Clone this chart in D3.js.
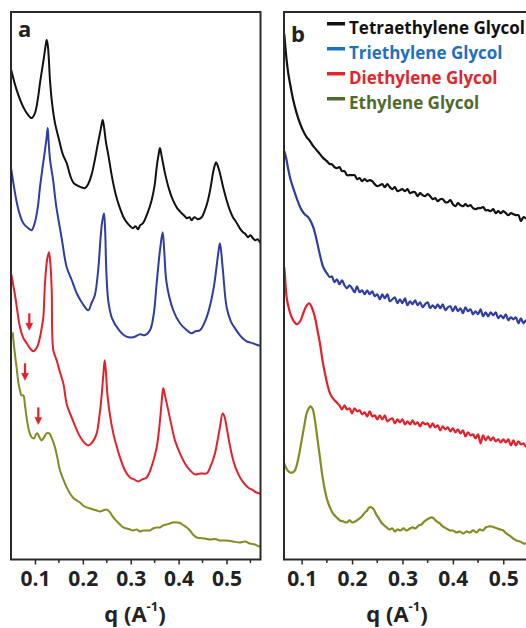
<!DOCTYPE html>
<html>
<head>
<meta charset="utf-8">
<script src="https://cdn.jsdelivr.net/npm/d3@7"></script>
<style>
  html, body { margin: 0; padding: 0; background: #fff; }
  text { font-family: "Open Sans", "DejaVu Sans", sans-serif; font-weight: 700; }
</style>
</head>
<body>
<svg id="chart" width="526" height="628"></svg>
<script>
// ---- data: [q (1/A), intensity (a.u., curves offset)] ----
const tickValues = [0.1, 0.2, 0.3, 0.4, 0.5];
const minorTickValues = [0.15, 0.25, 0.35, 0.45, 0.55];
const seriesNames = ['Tetraethylene Glycol', 'Triethylene Glycol', 'Diethylene Glycol', 'Ethylene Glycol'];
const lineColors = ['#111111', '#2e3ca4', '#e4202a', '#838b22'];
const labelColors = ['#111111', '#1f70c2', '#e1262b', '#4f6a2b'];

// panel a
const tetraA = [[0.0505,489],[0.0619,469],[0.0757,452],[0.0860,444],[0.0932,441],[0.1000,446],[0.1060,460],[0.1105,476],[0.1150,490],[0.1189,502],[0.1225,514],[0.1245,519],[0.1268,514],[0.1290,500],[0.1314,479],[0.1360,455],[0.1419,436],[0.1500,420],[0.1580,405],[0.1663,396],[0.1740,383],[0.1810,376],[0.1872,374],[0.1960,372],[0.2045,371],[0.2110,375],[0.2180,384],[0.2250,399],[0.2300,412],[0.2358,426],[0.2390,434],[0.2414,439],[0.2440,433],[0.2483,417],[0.2540,402],[0.2610,382],[0.2680,366],[0.2760,353],[0.2850,342],[0.2930,336],[0.2990,333],[0.3047,331],[0.3100,333],[0.3150,330],[0.3200,334],[0.3256,336],[0.3350,346],[0.3437,359],[0.3500,374],[0.3542,392],[0.3580,404],[0.3611,411],[0.3650,402],[0.3715,386],[0.3800,370],[0.3882,359],[0.3970,351],[0.4064,346],[0.4130,343],[0.4170,341],[0.4230,342],[0.4272,339],[0.4330,342],[0.4400,340],[0.4481,342],[0.4550,349],[0.4613,359],[0.4670,372],[0.4717,386],[0.4750,393],[0.4780,397],[0.4820,393],[0.4863,386],[0.4930,372],[0.5003,359],[0.5070,349],[0.5134,342],[0.5190,338],[0.5240,334],[0.5290,330],[0.5344,327],[0.5400,325],[0.5450,322],[0.5500,324],[0.5552,321],[0.5600,319],[0.5650,320],[0.5698,317],[0.5720,316]];
const triA = [[0.0505,390],[0.0560,373],[0.0619,357],[0.0688,344],[0.0757,336],[0.0860,331],[0.0932,329],[0.1000,337],[0.1060,352],[0.1105,372],[0.1160,392],[0.1210,409],[0.1245,422],[0.1266,431],[0.1285,418],[0.1314,400],[0.1350,388],[0.1383,378],[0.1420,362],[0.1454,350],[0.1558,321],[0.1663,292],[0.1770,279],[0.1872,266],[0.1990,256],[0.2114,249],[0.2180,256],[0.2250,264],[0.2320,289],[0.2370,321],[0.2400,336],[0.2441,346],[0.2465,330],[0.2490,289],[0.2530,259],[0.2610,241],[0.2760,229],[0.2900,223],[0.3053,222],[0.3200,225],[0.3290,224],[0.3402,229],[0.3480,245],[0.3542,276],[0.3611,309],[0.3667,327],[0.3700,308],[0.3750,276],[0.3888,249],[0.4028,236],[0.4150,230],[0.4272,226],[0.4350,228],[0.4445,229],[0.4585,242],[0.4724,269],[0.4828,306],[0.4863,316],[0.4919,292],[0.5003,252],[0.5090,238],[0.5177,231],[0.5316,222],[0.5420,218],[0.5550,216],[0.5663,214],[0.5720,213]];
const diA = [[0.0505,285],[0.0584,264],[0.0688,232],[0.0751,222],[0.0828,216],[0.0897,211],[0.0966,208],[0.1043,212],[0.1105,222],[0.1147,233],[0.1175,242],[0.1210,276],[0.1252,299],[0.1293,307],[0.1325,294],[0.1350,269],[0.1384,209],[0.1453,199],[0.1523,187],[0.1592,176],[0.1669,154],[0.1767,142],[0.1850,132],[0.1905,126],[0.2009,118],[0.2114,114],[0.2212,118],[0.2289,126],[0.2348,144],[0.2393,164],[0.2427,184],[0.2456,199],[0.2483,187],[0.2511,166],[0.2567,144],[0.2636,126],[0.2713,112],[0.2775,102],[0.2880,89],[0.2984,82],[0.3070,80],[0.3158,78],[0.3240,80],[0.3333,82],[0.3444,94],[0.3542,112],[0.3590,129],[0.3625,146],[0.3659,164],[0.3680,171],[0.3715,164],[0.3784,149],[0.3851,134],[0.3924,119],[0.4028,106],[0.4132,96],[0.4240,89],[0.4341,85],[0.4460,86],[0.4585,86],[0.4675,94],[0.4759,106],[0.4821,121],[0.4863,132],[0.4919,146],[0.4957,143],[0.5003,132],[0.5071,114],[0.5141,99],[0.5239,86],[0.5350,77],[0.5450,72],[0.5558,69],[0.5620,67],[0.5683,66],[0.5720,65]];
const ethA = [[0.0535,227],[0.0573,209],[0.0619,191],[0.0657,176],[0.0688,169],[0.0719,164],[0.0757,164],[0.0792,154],[0.0834,139],[0.0886,127],[0.0932,122],[0.0980,121],[0.1022,125],[0.1053,126],[0.1095,122],[0.1141,119],[0.1189,122],[0.1241,126],[0.1300,126],[0.1345,122],[0.1419,112],[0.1471,101],[0.1523,89],[0.1592,80],[0.1663,72],[0.1732,66],[0.1794,62],[0.1872,59],[0.1940,57],[0.2003,54],[0.2080,52],[0.2149,51],[0.2218,50],[0.2289,49],[0.2358,48],[0.2421,49],[0.2498,50],[0.2567,47],[0.2636,42],[0.2713,38],[0.2775,35],[0.2845,32],[0.2922,31],[0.2984,30],[0.3053,29],[0.3130,30],[0.3193,28],[0.3256,29],[0.3333,29],[0.3402,29],[0.3465,31],[0.3542,32],[0.3611,32],[0.3674,34],[0.3747,35],[0.3820,36],[0.3882,37],[0.3959,37],[0.4028,36.5],[0.4091,34.5],[0.4168,32],[0.4237,29],[0.4300,25],[0.4377,22],[0.4446,21.5],[0.4551,21],[0.4654,20],[0.4759,20.5],[0.4863,19],[0.5003,19],[0.5134,18],[0.5281,17],[0.5386,18],[0.5489,16],[0.5594,15],[0.5683,13],[0.5720,14]];

// red arrows in panel a: [q, intensity at arrow tip]
const arrowsA = [[0.0882, 229], [0.0792, 179], [0.1070, 135]];

// panel b
const tetraB = [[0.0655,525],[0.0667,518],[0.0700,500],[0.0734,486],[0.0768,476],[0.0833,459],[0.0900,446],[0.0966,436],[0.1032,428],[0.1099,422],[0.1165,418],[0.1230,413],[0.1298,409],[0.1363,405],[0.1430,401],[0.1500,398],[0.1561,395],[0.160,395],[0.165,392],[0.170,391],[0.175,392],[0.180,388],[0.185,388],[0.190,384],[0.195,384],[0.200,384],[0.205,384],[0.210,380],[0.215,381],[0.220,378],[0.225,380],[0.230,378],[0.235,379],[0.240,378],[0.245,375],[0.250,373],[0.255,374],[0.260,375],[0.265,372],[0.270,375],[0.275,372],[0.280,370],[0.285,372],[0.290,368],[0.295,369],[0.300,370],[0.305,368],[0.310,370],[0.315,366],[0.320,367],[0.325,367],[0.330,363],[0.335,366],[0.340,364],[0.345,363],[0.350,365],[0.355,363],[0.360,360],[0.365,361],[0.370,358],[0.375,360],[0.380,360],[0.385,357],[0.390,357],[0.395,359],[0.400,355],[0.405,353],[0.410,356],[0.415,354],[0.420,353],[0.425,355],[0.430,353],[0.435,354],[0.440,351],[0.445,350],[0.450,351],[0.455,351],[0.460,352],[0.465,349],[0.470,349],[0.475,348],[0.480,350],[0.485,346],[0.490,348],[0.495,346],[0.500,348],[0.505,346],[0.510,344],[0.515,346],[0.520,345],[0.525,344],[0.530,344],[0.535,338],[0.540,342],[0.545,341],[0.550,340]];
const triB = [[0.0655,408],[0.0689,402],[0.0730,391],[0.0768,382],[0.0820,373],[0.0867,366],[0.0930,357],[0.1000,349],[0.1060,345],[0.1131,342],[0.1180,338],[0.1230,332],[0.1265,326],[0.1298,319],[0.1360,305],[0.1429,292],[0.1500,286],[0.1562,282],[0.160,283],[0.165,277],[0.170,280],[0.175,275],[0.180,279],[0.185,274],[0.190,271],[0.195,274],[0.200,271],[0.205,267],[0.210,273],[0.215,267],[0.220,269],[0.225,265],[0.230,269],[0.235,265],[0.240,268],[0.245,263],[0.250,265],[0.255,260],[0.260,265],[0.265,261],[0.270,265],[0.275,258],[0.280,260],[0.285,262],[0.290,256],[0.295,260],[0.300,256],[0.305,261],[0.310,254],[0.315,258],[0.320,255],[0.325,259],[0.330,254],[0.335,257],[0.340,252],[0.345,255],[0.350,257],[0.355,251],[0.360,254],[0.365,251],[0.370,255],[0.375,251],[0.380,255],[0.385,249],[0.390,252],[0.395,253],[0.400,248],[0.405,253],[0.410,248],[0.415,251],[0.420,246],[0.425,252],[0.430,248],[0.435,250],[0.440,245],[0.445,248],[0.450,245],[0.455,250],[0.460,243],[0.465,247],[0.470,243],[0.475,247],[0.480,244],[0.485,247],[0.490,241],[0.495,244],[0.500,241],[0.505,245],[0.510,239],[0.515,242],[0.520,240],[0.525,242],[0.530,236],[0.535,241],[0.540,236],[0.545,239],[0.550,235]];
const diB = [[0.0655,292],[0.0669,284],[0.0702,262],[0.0750,250],[0.0802,242],[0.0860,237],[0.0913,235],[0.0970,238],[0.1032,246],[0.1090,253],[0.1151,256],[0.1200,252],[0.1264,242],[0.1310,230],[0.1363,216],[0.1410,200],[0.1462,186],[0.1510,175],[0.1562,166],[0.1620,161],[0.1694,157],[0.175,154],[0.180,150],[0.185,154],[0.190,150],[0.195,151],[0.200,146],[0.205,151],[0.210,148],[0.215,149],[0.220,145],[0.225,147],[0.230,143],[0.235,148],[0.240,143],[0.245,144],[0.250,140],[0.255,144],[0.260,140],[0.265,144],[0.270,138],[0.275,140],[0.280,141],[0.285,136],[0.290,140],[0.295,137],[0.300,140],[0.305,135],[0.310,138],[0.315,135],[0.320,139],[0.325,135],[0.330,137],[0.335,133],[0.340,137],[0.345,135],[0.350,136],[0.355,132],[0.360,136],[0.365,132],[0.370,134],[0.375,129],[0.380,133],[0.385,130],[0.390,132],[0.395,128],[0.400,131],[0.405,127],[0.410,130],[0.415,126],[0.420,129],[0.425,123],[0.430,127],[0.435,124],[0.440,125],[0.445,121],[0.450,125],[0.455,116],[0.460,124],[0.465,119],[0.470,123],[0.475,119],[0.480,122],[0.485,118],[0.490,120],[0.495,117],[0.500,120],[0.505,117],[0.510,120],[0.515,114],[0.520,119],[0.525,114],[0.530,118],[0.535,115],[0.540,116],[0.545,113],[0.550,115]];
const ethB = [[0.0655,96],[0.0669,94],[0.0720,89],[0.0768,87],[0.0820,87],[0.0867,89],[0.0930,100],[0.1000,119],[0.1050,133],[0.1099,146],[0.1140,151],[0.1179,153],[0.1220,150],[0.1264,139],[0.1310,122],[0.1363,102],[0.1410,84],[0.1462,69],[0.1510,59],[0.1562,52],[0.1620,46],[0.1694,42],[0.1760,39],[0.1830,38],[0.1893,37],[0.1950,39],[0.2010,37],[0.2091,39],[0.2150,41],[0.2210,44],[0.2256,47],[0.2300,49],[0.2340,52],[0.2389,52],[0.2430,50],[0.2480,45],[0.2520,42],[0.2580,37],[0.2640,34],[0.2687,32],[0.2740,30],[0.2800,31],[0.2850,28],[0.2900,30],[0.2960,29],[0.3020,31],[0.3080,29],[0.3149,31],[0.3200,32],[0.3260,31],[0.3320,34],[0.3380,35],[0.3413,37],[0.3460,39],[0.3520,41],[0.3579,42],[0.3620,41],[0.3680,38],[0.3744,36],[0.3800,33],[0.3870,31],[0.3942,29],[0.4000,29],[0.4070,27],[0.4140,28],[0.4206,26],[0.4270,28],[0.4340,27],[0.4400,29],[0.4472,27],[0.4530,30],[0.4600,29],[0.4650,32],[0.4710,33],[0.4770,33],[0.4830,32],[0.4880,31],[0.4940,30],[0.5000,29],[0.5060,26],[0.5120,24],[0.5198,21],[0.5260,19],[0.5330,18],[0.5400,16],[0.5450,16],[0.5500,15]];

// ---- layout ----
const svg = d3.select('#chart');
svg.append('rect').attr('width', 526).attr('height', 628).attr('fill', '#fff');

const plotTop = 12, plotBottom = 559.5;
const y = d3.scaleLinear().domain([0, 547]).range([plotBottom, plotTop]);

const panels = [
  { id: 'a', x: d3.scaleLinear().domain([0.05, 0.571]).range([11, 260.5]),
    series: [tetraA, triA, diA, ethA], strokeWidth: 2, titleX: 135, letterX: 18, letterY: 37 },
  { id: 'b', x: d3.scaleLinear().domain([0.065, 0.58]).range([284, 543.6]),
    series: [tetraB, triB, diB, ethB], strokeWidth: 2.2, titleX: 397, letterX: 291, letterY: 42 },
];

panels.forEach(p => {
  const [x0, x1] = p.x.range();
  const g = svg.append('g');

  g.append('defs').append('clipPath').attr('id', `clip-${p.id}`)
    .append('rect').attr('x', x0).attr('y', plotTop).attr('width', x1 - x0).attr('height', plotBottom - plotTop);

  const line = d3.line()
    .x(d => p.x(d[0]))
    .y(d => y(d[1]))
    .curve(d3.curveCatmullRom.alpha(0.5));

  const plot = g.append('g').attr('clip-path', `url(#clip-${p.id})`);
  p.series.forEach((s, i) => {
    plot.append('path')
      .datum(s)
      .attr('d', line)
      .attr('fill', 'none')
      .attr('stroke', lineColors[i])
      .attr('stroke-width', p.strokeWidth)
      .attr('stroke-linejoin', 'round');
  });

  // frame
  g.append('rect')
    .attr('x', x0).attr('y', plotTop)
    .attr('width', x1 - x0).attr('height', plotBottom - plotTop)
    .attr('fill', 'none').attr('stroke', '#2a2a2a').attr('stroke-width', 2);

  // x axis: major + minor ticks, labels
  const axis = g.append('g').attr('transform', `translate(0,${plotBottom})`);
  axis.call(d3.axisBottom(p.x).tickValues(tickValues).tickSize(5).tickFormat(d3.format('.1f')).tickPadding(7))
    .call(a => a.select('.domain').remove())
    .call(a => a.selectAll('line').attr('stroke', '#2a2a2a').attr('stroke-width', 1.5))
    .call(a => a.selectAll('text')
      .attr('fill', '#222').attr('font-size', 21).attr('font-weight', 700)
      .attr('font-family', '"Open Sans", sans-serif'));
  axis.selectAll('.minor').data(minorTickValues.filter(v => p.x(v) < 526))
    .join('line').attr('class', 'minor')
    .attr('x1', d => p.x(d)).attr('x2', d => p.x(d))
    .attr('y1', 0).attr('y2', 3.5)
    .attr('stroke', '#2a2a2a').attr('stroke-width', 1.5);

  // axis title
  const title = g.append('text')
    .attr('x', p.titleX).attr('y', 622)
    .attr('text-anchor', 'middle')
    .attr('font-size', 22).attr('fill', '#222');
  title.append('tspan').text('q (A');
  title.append('tspan').attr('font-size', 13).attr('dy', -11).text('-1');
  title.append('tspan').attr('dy', 11).text(')');

  // panel letter
  g.append('text')
    .attr('x', p.letterX).attr('y', p.letterY)
    .attr('font-size', 22).attr('fill', '#222')
    .text(p.id);
});

// arrows on panel a
const xa = panels[0].x;
const arrowLen = 17, headH = 7, headW = 7;
const arrows = svg.append('g').attr('fill', '#e4202a').attr('stroke', '#e4202a');
arrowsA.forEach(([q, v]) => {
  const ax = xa(q), tip = y(v);
  arrows.append('line')
    .attr('x1', ax).attr('x2', ax)
    .attr('y1', tip - arrowLen).attr('y2', tip - headH + 1)
    .attr('stroke-width', 2.2);
  arrows.append('path')
    .attr('d', `M${ax - headW / 2},${tip - headH}L${ax + headW / 2},${tip - headH}L${ax},${tip}Z`)
    .attr('stroke-width', 0.5);
});

// legend (panel b)
const legend = svg.append('g').attr('transform', 'translate(327,33.5)');
seriesNames.forEach((name, i) => {
  const row = legend.append('g').attr('transform', `translate(0,${i * 25})`);
  row.append('rect')
    .attr('x', 0).attr('y', -11.5)
    .attr('width', 18).attr('height', 3.5)
    .attr('fill', labelColors[i]);
  row.append('text')
    .attr('x', 22).attr('y', 0)
    .attr('font-size', 17)
    .attr('fill', labelColors[i])
    .text(name);
});
</script>
</body>
</html>
